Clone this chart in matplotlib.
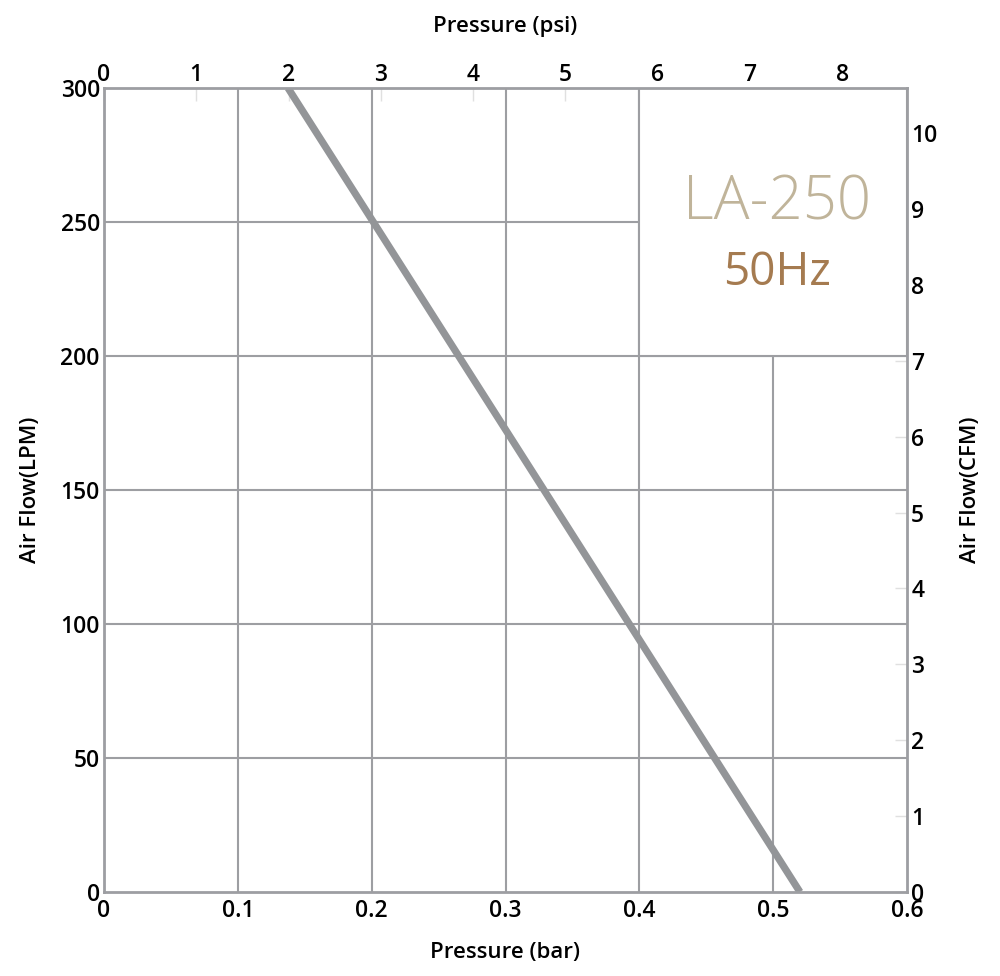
import numpy as np
import matplotlib
matplotlib.use("Agg")
import matplotlib.pyplot as plt
from matplotlib.patches import Rectangle

# ---------------- data ----------------
pressure_bar = [0.1375, 0.52]
air_flow_lpm = [300, 0]

bar_ticks = [0, 0.1, 0.2, 0.3, 0.4, 0.5, 0.6]
bar_labels = ["0", "0.1", "0.2", "0.3", "0.4", "0.5", "0.6"]
lpm_ticks = [0, 50, 100, 150, 200, 250, 300]
psi_ticks = [0, 1, 2, 3, 4, 5, 6, 7, 8]
cfm_ticks = [0, 1, 2, 3, 4, 5, 6, 7, 8, 9, 10]

model_name = "LA-250"
frequency = "50Hz"

PSI_PER_BAR = 14.5038
LPM_PER_CFM = 28.3168

# ---------------- style ----------------
plt.rcParams['font.family'] = ['Open Sans', 'DejaVu Sans']
grid_color = "#9d9ea2"
line_color = "#939598"
tick_font = dict(fontsize=16.5, fontweight="semibold")
label_font = dict(fontsize=16, fontweight="semibold")

fig = plt.figure(figsize=(10, 9.76), dpi=100)
ax = fig.add_axes([0.104, 0.0861, 0.803, 0.8237])

ax.set_xlim(0, 0.6)
ax.set_ylim(0, 300)

# grid
for x in bar_ticks[1:-1]:
    ax.axvline(x, color=grid_color, lw=1.5, zorder=1)
for y in lpm_ticks[1:-1]:
    ax.axhline(y, color=grid_color, lw=1.5, zorder=1)

# white box for model name
ax.add_patch(Rectangle((0.4, 200), 0.2, 100, facecolor="white",
                       edgecolor=grid_color, lw=1.5, zorder=2))

ax.plot(pressure_bar, air_flow_lpm, color=line_color, lw=5.2,
        solid_capstyle="butt", zorder=3)

for s in ax.spines.values():
    s.set_color(grid_color)
    s.set_linewidth(2)
    s.set_zorder(4)

ax.set_xticks(bar_ticks)
ax.set_xticklabels(bar_labels, **tick_font)
ax.set_yticks(lpm_ticks)
ax.set_yticklabels([str(v) for v in lpm_ticks], **tick_font)
ax.tick_params(axis="x", length=0, pad=5)
ax.tick_params(axis="y", length=0, pad=3)

ax.set_xlabel("Pressure (bar)", labelpad=14, **label_font)
ax.set_ylabel("Air Flow(LPM)", labelpad=14, **label_font)

# top psi axis
top = ax.secondary_xaxis("top", functions=(lambda b: b * PSI_PER_BAR,
                                           lambda p: p / PSI_PER_BAR))
top.set_xticks(psi_ticks)
top.set_xticklabels([str(v) for v in psi_ticks], **tick_font)
top.tick_params(direction="in", length=9, width=1, color="#e0e0e0", pad=1)
top.spines["top"].set_visible(False)
top.set_xlabel("Pressure (psi)", labelpad=22, **label_font)

# right cfm axis
right = ax.secondary_yaxis("right", functions=(lambda l: l / LPM_PER_CFM,
                                               lambda c: c * LPM_PER_CFM))
right.set_yticks(cfm_ticks)
right.set_yticklabels([str(v) for v in cfm_ticks], **tick_font)
right.tick_params(direction="in", length=9, width=1, color="#e0e0e0", pad=3)
right.spines["right"].set_visible(False)
right.set_ylabel("Air Flow(CFM)", labelpad=16, **label_font)

# model text
ax.text(0.503, 257, model_name, fontsize=43, fontweight="light",
        color="#c0b49a", ha="center", va="center", zorder=5)
ax.text(0.503, 231, frequency, fontsize=33, fontweight="normal",
        color="#a57b50", ha="center", va="center", zorder=5)

fig.savefig("out.png", dpi=100)
